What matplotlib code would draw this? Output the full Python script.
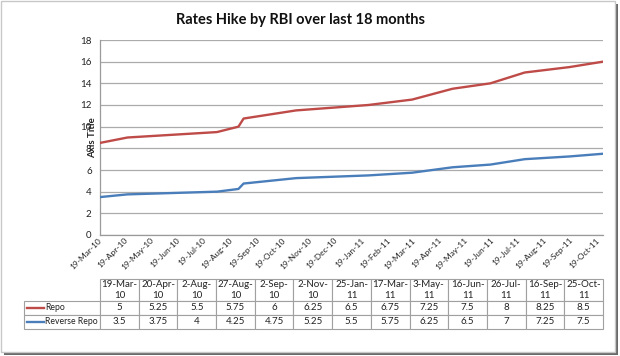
import matplotlib
matplotlib.use("Agg")
import matplotlib.pyplot as plt
import matplotlib.dates as mdates
from matplotlib.table import Table
from matplotlib.patches import Rectangle
from datetime import datetime

plt.rcParams['font.family'] = ['Lato', 'DejaVu Sans']

title = "Rates Hike by RBI over last 18 months"
y_title = "Axis Title"
dates = ["19-Mar-10", "20-Apr-10", "2-Aug-10", "27-Aug-10", "2-Sep-10", "2-Nov-10",
         "25-Jan-11", "17-Mar-11", "3-May-11", "16-Jun-11", "26-Jul-11", "16-Sep-11", "25-Oct-11"]
repo = [5, 5.25, 5.5, 5.75, 6, 6.25, 6.5, 6.75, 7.25, 7.5, 8, 8.25, 8.5]
reverse_repo = [3.5, 3.75, 4, 4.25, 4.75, 5.25, 5.5, 5.75, 6.25, 6.5, 7, 7.25, 7.5]
series_names = ["Repo", "Reverse Repo"]
yticks = list(range(0, 19, 2))

red = '#BE4B48'
blue = '#4A7EBB'

W, H = 620, 356
fig = plt.figure(figsize=(6.2, 3.56), dpi=100)
fig.patch.set_facecolor('white')


def px(x0, y0, x1, y1):
    return [x0 / W, 1 - y1 / H, (x1 - x0) / W, (y1 - y0) / H]


# frame with shadow
fig.add_artist(Rectangle((4 / W, 1 - 355 / H), 614 / W, 351 / H, transform=fig.transFigure,
                         facecolor='#6a6a6a', edgecolor='none', zorder=-20))
fig.add_artist(Rectangle((1 / W, 1 - 352 / H), 614 / W, 351 / H, transform=fig.transFigure,
                         facecolor='white', edgecolor='#c8c8c8', linewidth=1, zorder=-19))

x0p, y0p, x1p, y1p = 100, 40, 603, 235
ax = fig.add_axes(px(x0p, y0p, x1p, y1p))
ax.set_facecolor('none')

xd = [datetime.strptime(d, "%d-%b-%y") for d in dates]
stacked_repo = [a + b for a, b in zip(reverse_repo, repo)]  # stacked line chart

ax.plot(xd, reverse_repo, color=blue, lw=1.7, zorder=3)
ax.plot(xd, stacked_repo, color=red, lw=1.7, zorder=3)

ax.set_xlim(xd[0], xd[-1])
ax.set_ylim(0, 18)
ax.set_yticks(yticks)
ax.xaxis.set_major_locator(mdates.MonthLocator(bymonthday=19))
ax.xaxis.set_major_formatter(mdates.DateFormatter('%d-%b-%y'))
ax.grid(axis='y', color='#ABABAB', lw=0.9)
ax.set_axisbelow(True)
for s in ['top', 'right']:
    ax.spines[s].set_visible(False)
for s in ['left', 'bottom']:
    ax.spines[s].set_color('#9A9A9A')
    ax.spines[s].set_linewidth(0.9)
ax.tick_params(axis='y', length=0, pad=6, labelsize=7, labelcolor='#222222')
ax.tick_params(axis='x', length=0, pad=3, labelsize=6, labelcolor='#222222')
for lab in ax.get_xticklabels():
    lab.set_rotation(45)
    lab.set_ha('right')
    lab.set_va('center')
    lab.set_rotation_mode('anchor')

ax.text(-0.014, 0.5, y_title, transform=ax.transAxes, rotation=90, ha='center', va='center',
        fontsize=7, fontweight='bold', color='#222222')

fig.text(300 / W, 1 - 20 / H, title, ha='center', va='center', fontsize=10.5, fontweight='bold',
         color='#111111')

# data table
aw, ah = x1p - x0p, y1p - y0p
tx0, tx1, ty0, ty1 = 24, 603, 279, 329
tb = Table(ax, bbox=[(tx0 - x0p) / aw, (y1p - ty1) / ah, (tx1 - tx0) / aw, (ty1 - ty0) / ah])
cw = 1.0
lw_col = 76 / (503 / 13)
hh, rh = 22, 14
edge = '#A0A0A0'
label_cells = []
for j, d in enumerate(dates):
    a, b = d.rsplit('-', 1)
    c = tb.add_cell(0, j + 1, cw, hh, text=f"{a}-\n{b}", loc='center')
    c.set_edgecolor(edge)
    c.set_linewidth(0.8)
for i, (name, vals) in enumerate(zip(series_names, [repo, reverse_repo])):
    c = tb.add_cell(i + 1, 0, lw_col, rh, text=name, loc='left')
    c.PAD = 21 / 76
    c.set_edgecolor(edge)
    c.set_linewidth(0.8)
    label_cells.append(c)
    for j, v in enumerate(vals):
        c = tb.add_cell(i + 1, j + 1, cw, rh, text=f"{v:g}", loc='center')
        c.set_edgecolor(edge)
        c.set_linewidth(0.8)
tb.auto_set_font_size(False)
tb.set_fontsize(7)
for cell in tb.get_celld().values():
    cell.get_text().set_color('#222222')
for c in label_cells:
    c.get_text().set_fontsize(6.2)
ax.add_table(tb)

# legend keys in the table
row_centers = [ty0 + hh + rh / 2, ty0 + hh + rh * 1.5]
for yc, col in zip(row_centers, [red, blue]):
    yy = (y1p - yc) / ah
    ax.plot([(27 - x0p) / aw, (44 - x0p) / aw], [yy, yy], transform=ax.transAxes,
            color=col, lw=1.7, clip_on=False)

fig.savefig("out.png", dpi=100)
